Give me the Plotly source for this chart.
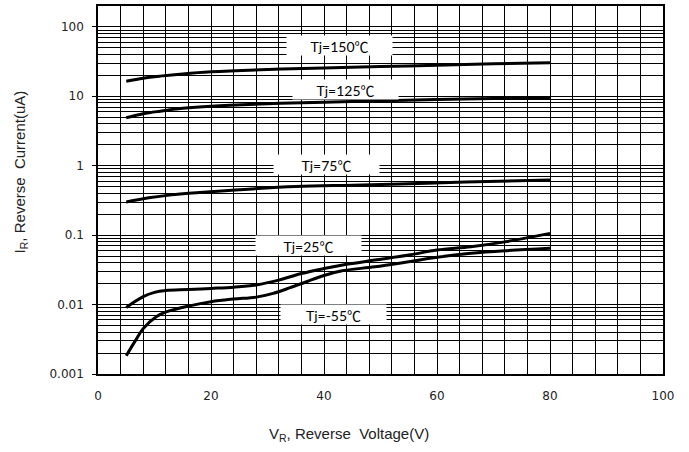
import math
import plotly.graph_objects as go

# ---- data ----
v150 = [5, 8, 11, 15, 20, 30, 40, 50, 60, 70, 80]
i150 = [16.5, 18.2, 19.5, 21.0, 22.5, 24.3, 25.5, 26.8, 28.0, 29.3, 30.5]

v125 = [5, 8, 11, 15, 20, 30, 40, 50, 60, 70, 80]
i125 = [4.9, 5.6, 6.1, 6.7, 7.2, 7.8, 8.2, 8.6, 9.0, 9.3, 9.6]

v75 = [5, 9, 13, 18, 25, 35, 45, 55, 65, 80]
i75 = [0.30, 0.345, 0.38, 0.41, 0.45, 0.50, 0.525, 0.55, 0.58, 0.62]

v25 = [5, 8, 10, 12, 16, 20, 24, 28, 32, 36, 40, 44, 49, 55, 60, 66, 72, 80]
i25 = [0.0091, 0.013, 0.0150, 0.0160, 0.0165, 0.0171, 0.0178, 0.0192, 0.0225, 0.028, 0.033,
       0.038, 0.0437, 0.0516, 0.061, 0.068, 0.080, 0.106]

vm55 = [5, 6.7, 8, 10.3, 12.2, 16, 20, 24, 28, 31, 34, 37, 40, 43, 49, 55, 60, 66, 72, 80]
im55 = [0.00183, 0.0031, 0.0045, 0.0067, 0.0079, 0.0095, 0.011, 0.012, 0.0128, 0.0145, 0.0175,
        0.0215, 0.0262, 0.0305, 0.035, 0.0414, 0.0479, 0.0547, 0.0596, 0.0645]

series_x = [v150, v125, v75, v25, vm55]
series_y = [i150, i125, i75, i25, im55]

labels = ["Tj=150", "Tj=125", "Tj=75", "Tj=25", "Tj=-55"]
label_x = [42.7, 43.8, 40.4, 37.2, 41.6]
label_y = [53.6, 12.7, 1.04, 0.072, 0.0073]

x_ticks = [0, 20, 40, 60, 80, 100]
y_ticks = [0.001, 0.01, 0.1, 1, 10, 100]
y_ticktext = ["0.001", "0.01", "0.1", "1", "10", "100"]

# plot area in pixels (for placing the axis titles)
L, R, T, B = 98, 663, 6, 374
PW, PH = R - L, B - T

fig = go.Figure()
for xs, ys in zip(series_x, series_y):
    fig.add_trace(go.Scatter(x=xs, y=ys, mode="lines",
                             line=dict(color="black", width=3, shape="spline", smoothing=1.0),
                             showlegend=False, hoverinfo="skip"))

for t, lx, ly in zip(labels, label_x, label_y):
    fig.add_annotation(x=lx, y=math.log10(ly), xref="x", yref="y",
                       text=t + "<span style='font-family:Noto Sans CJK SC'>℃</span>",
                       showarrow=False, bgcolor="white", width=105, height=19,
                       borderpad=0,
                       font=dict(family="Lato, sans-serif", size=14, color="black"))

minor_y = [k * 10 ** e for e in range(-3, 3) for k in range(2, 10)]

fig.update_xaxes(range=[0, 100], tickvals=x_ticks, ticks="", showgrid=True,
                 gridcolor="black", gridwidth=1.3, automargin=False,
                 minor=dict(dtick=4, showgrid=True, gridcolor="black", gridwidth=1.3, ticks=""),
                 showline=True, mirror=True, linecolor="black", linewidth=1.5,
                 tickfont=dict(family="DejaVu Sans", size=12, color="#222"),
                 ticklabelstandoff=10, zeroline=False)
fig.update_yaxes(type="log", range=[-3, 2.3], tickvals=y_ticks, ticktext=y_ticktext,
                 ticks="outside", ticklen=4, tickwidth=1.3, tickcolor="black",
                 showgrid=True, gridcolor="black", gridwidth=1.3, automargin=False,
                 minor=dict(tickvals=minor_y, showgrid=True, gridcolor="black", gridwidth=1.3, ticks=""),
                 showline=True, mirror=True, linecolor="black", linewidth=1.5,
                 tickfont=dict(family="DejaVu Sans", size=12, color="#222"),
                 ticklabelstandoff=6, zeroline=False)

fig.add_annotation(x=(348.7 - L) / PW, y=(B - 435) / PH, xref="paper", yref="paper",
                   text="V<sub>R</sub>, Reverse\u00a0\u00a0Voltage(V)", showarrow=False,
                   font=dict(family="Liberation Sans, Arial", size=15, color="#222"),
                   xanchor="center", yanchor="middle")
fig.add_annotation(x=(20.7 - L) / PW, y=(B - 171.7) / PH, xref="paper", yref="paper",
                   text="I<sub>R</sub>, Reverse\u00a0\u00a0Current(uA)", showarrow=False, textangle=-90,
                   font=dict(family="Liberation Sans, Arial", size=15, color="#222"),
                   xanchor="center", yanchor="middle")

fig.update_layout(width=689, height=452, margin=dict(l=L, r=689 - R, t=T, b=452 - B),
                  paper_bgcolor="white", plot_bgcolor="white")

fig.write_html("out.html", config={"displayModeBar": False},
               post_script="document.body.style.margin='0';document.body.style.overflow='hidden';")
